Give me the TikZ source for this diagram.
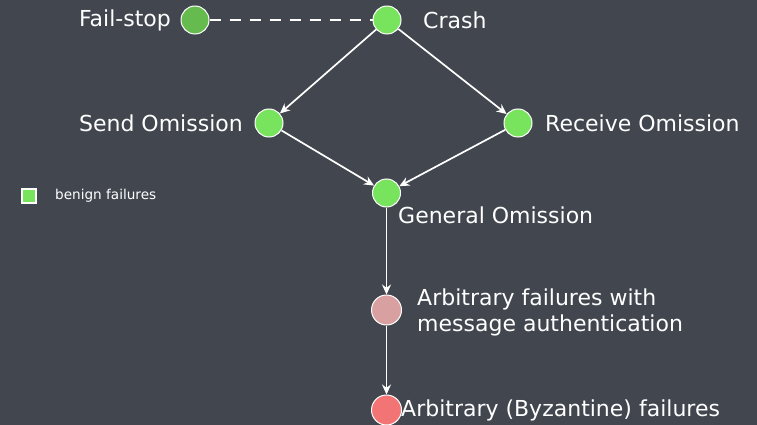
\documentclass[tikz,border=0pt]{standalone}
\usepackage{fontspec}
\setmainfont{DejaVu Sans}
\usetikzlibrary{arrows.meta}
\definecolor{bg}{RGB}{66,71,79}
\definecolor{gdark}{RGB}{102,187,79}
\definecolor{glight}{RGB}{120,228,94}
\definecolor{pinkc}{RGB}{216,160,160}
\definecolor{redc}{RGB}{243,116,116}
\tikzset{
  state/.style={circle,draw=white,line width=1pt,minimum size=28pt,inner sep=0pt},
  lbl/.style={text=white,font=\fontsize{22}{26}\selectfont,inner sep=0pt},
  conn/.style={draw=white,line width=1.7pt,-{Stealth[length=10pt,width=9pt]}},
}
\begin{document}
\begin{tikzpicture}[x=1pt,y=-1pt]
\useasboundingbox (0,0) rectangle (757,425);
\fill[bg] (0,0) rectangle (757,425);
% states
\node[state,fill=gdark] (fs) at (195,20) {};
\node[state,fill=glight] (crash) at (387,20) {};
\node[state,fill=glight] (send) at (269,123) {};
\node[state,fill=glight] (recv) at (518,123) {};
\node[state,fill=glight] (gen) at (386.5,193) {};
\node[state,fill=pinkc,minimum size=30pt] (auth) at (386.5,310) {};
\node[state,fill=redc,minimum size=30pt] (byz) at (386.5,410) {};
% labels
\node[lbl,anchor=east] (fsl) at (171,20) {Fail-stop};
\node[lbl,anchor=west] (crashl) at (423,20) {Crash};
\node[lbl,anchor=east] (sendl) at (243,123) {Send Omission};
\node[lbl,anchor=west] (recvl) at (545,123) {Receive Omission};
\node[lbl,anchor=west] (genl) at (398,215) {General Omission};
\node[lbl,anchor=west,align=left] (authl) at (417,312) {Arbitrary failures with\\message authentication};
\node[lbl,anchor=west] (byzl) at (401,410) {Arbitrary (Byzantine) failures};
% legend
\node[draw=white,line width=1.8pt,fill=glight,minimum size=14pt,inner sep=0pt] (leg) at (29,196) {};
\node[text=white,font=\fontsize{13.6}{16}\selectfont,anchor=west,inner sep=0pt] (legl) at (55,196) {benign failures};
% connectors
\draw[white,line width=1.7pt,dash pattern=on 11pt off 9pt] (fs) -- (crash);
\draw[conn] (crash) -- (send);
\draw[conn] (crash) -- (recv);
\draw[conn] (send) -- (gen);
\draw[conn] (recv) -- (gen);
\draw[conn] (gen) -- (auth);
\draw[conn] (auth) -- (byz);
\end{tikzpicture}
\end{document}
